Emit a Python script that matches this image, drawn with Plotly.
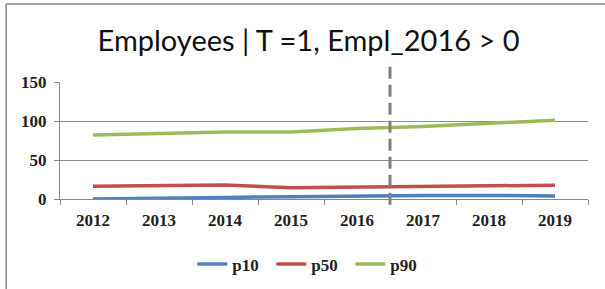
import plotly.graph_objects as go

years = ["2012", "2013", "2014", "2015", "2016", "2017", "2018", "2019"]
p10 = [0, 0.5, 2, 3, 4, 4.5, 4.5, 4]
p50 = [16.5, 17, 18, 14.5, 15.5, 17, 17, 17.5]
p90 = [82, 84, 86, 86, 90.5, 93, 97, 101]
y_ticks = [0, 50, 100, 150]
title_text = "Employees | T =1, Empl_2016 > 0"

series = [("p10", p10, "#4F81BD"), ("p50", p50, "#C0504D"), ("p90", p90, "#9BBB59")]

fig = go.Figure()
for name, vals, col in series:
    fig.add_trace(go.Scatter(x=years, y=vals, mode="lines", name=name,
                             line=dict(color=col, width=3.5)))

tick_font = dict(family="Liberation Serif", size=17, color="#222", weight="bold")

fig.update_layout(
    width=605, height=289,
    margin=dict(l=60, r=17, t=82, b=90, autoexpand=False),
    paper_bgcolor="white", plot_bgcolor="white",
    title=dict(text=title_text, x=0.51, xanchor="center", y=0.86, yanchor="middle",
               font=dict(family="Lato", size=29, color="#111", weight="normal")),
    showlegend=True,
    legend=dict(orientation="h", x=0.475, xanchor="center", y=-0.56, yanchor="middle",
                font=tick_font, itemwidth=30, tracegroupgap=0,
                entrywidth=34, entrywidthmode="pixels"),
    font=tick_font,
)
fig.update_xaxes(type="category", tickson="boundaries", ticks="outside", ticklen=5,
                 tickcolor="#888", showline=True, linecolor="#888", linewidth=1,
                 showgrid=False, tickfont=tick_font, range=[-0.5, 7.5],
                 ticklabelstandoff=6)
fig.update_yaxes(range=[0, 150], tickvals=y_ticks, ticks="outside", ticklen=5,
                 tickcolor="#888", showline=True, linecolor="#888", linewidth=1,
                 showgrid=True, gridcolor="#8c8c8c", gridwidth=1, zeroline=False,
                 tickfont=tick_font, ticklabelstandoff=4)

# dashed marker between 2016 and 2017
fig.add_shape(type="line", xref="x", yref="paper", x0=4.5, x1=4.5, y0=-0.05, y1=1.13,
              line=dict(color="#808080", width=3, dash="12px,6px"))
# chart border
fig.add_shape(type="line", xref="paper", yref="paper", x0=-0.102, x1=1.1, y0=1.667, y1=1.667,
              line=dict(color="#888", width=1.5))
fig.add_shape(type="line", xref="paper", yref="paper", x0=-0.102, x1=-0.102, y0=-0.8, y1=1.667,
              line=dict(color="#888", width=1.5))

fig.write_html("out.html", config={"displayModeBar": False},
               post_script="document.body.style.margin='0';")
